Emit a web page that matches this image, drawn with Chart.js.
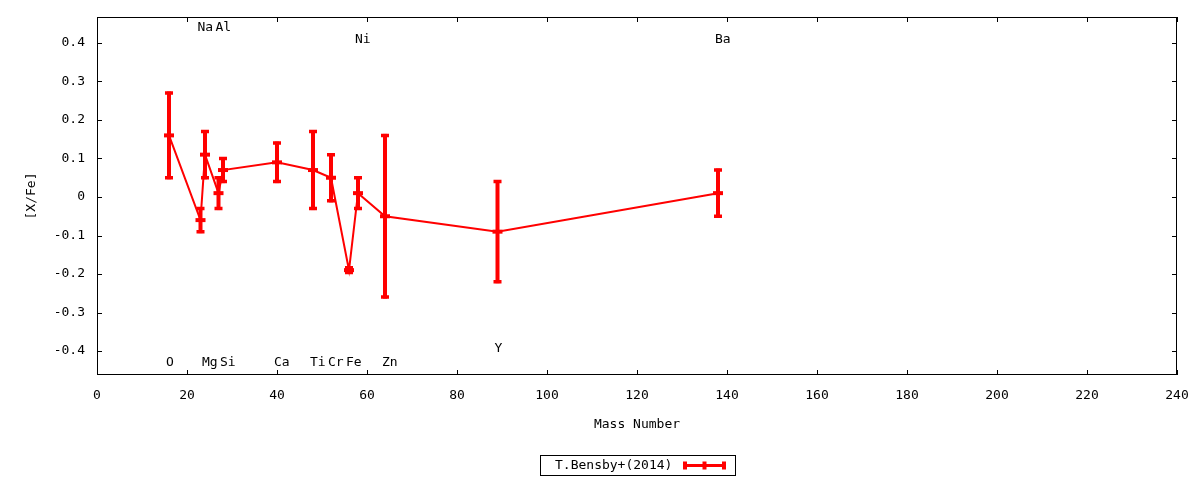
<!DOCTYPE html>
<html>
<head>
<meta charset="utf-8">
<script src="https://cdn.jsdelivr.net/npm/chart.js@4/dist/chart.umd.min.js"></script>
<style>
  html, body { margin: 0; padding: 0; background: #fff; }
  #chart { display: block; }
</style>
</head>
<body>
<canvas id="chart" width="1200" height="480"></canvas>
<script>
// ——— Data: [X/Fe] vs mass number, T.Bensby+(2014) ———
const elements = ['O', 'Na', 'Mg', 'Al', 'Si', 'Ca', 'Ti', 'Cr', 'Fe', 'Ni', 'Zn', 'Y', 'Ba'];
const massNumber = [16, 23, 24, 27, 28, 40, 48, 52, 56, 58, 64, 89, 138];
const xFe = [0.16, -0.06, 0.11, 0.01, 0.07, 0.09, 0.07, 0.05, -0.19, 0.01, -0.05, -0.09, 0.01];
const xFeLow = [0.05, -0.09, 0.05, -0.03, 0.04, 0.04, -0.03, -0.01, -0.196, -0.03, -0.26, -0.22, -0.05];
const xFeHigh = [0.27, -0.03, 0.17, 0.05, 0.10, 0.14, 0.17, 0.11, -0.184, 0.05, 0.16, 0.04, 0.07];
// where each element name sits, in [X/Fe] units
const labelLevel = [-0.43, 0.44, -0.43, 0.44, -0.43, -0.43, -0.43, -0.43, -0.43, 0.41, -0.43, -0.395, 0.41];

const xTicks = [0, 20, 40, 60, 80, 100, 120, 140, 160, 180, 200, 220, 240];
const yTicks = [-0.4, -0.3, -0.2, -0.1, 0, 0.1, 0.2, 0.3, 0.4];
const seriesName = 'T.Bensby+(2014)';

const RED = '#ff0000';
const FONT = '"DejaVu Sans Mono", monospace';

// ——— Frame with inward ticks, error bars, element labels, legend ———
const gnuplotLook = {
  id: 'gnuplotLook',
  beforeDatasetsDraw(chart) {
    const { ctx, scales: { x, y } } = chart;
    ctx.save();
    ctx.strokeStyle = RED;
    ctx.lineCap = 'butt';
    massNumber.forEach((m, i) => {
      const px = x.getPixelForValue(m);
      const yl = y.getPixelForValue(xFeLow[i]);
      const yh = y.getPixelForValue(xFeHigh[i]);
      ctx.lineWidth = 4;
      ctx.beginPath();
      ctx.moveTo(px, yl + 1.5); ctx.lineTo(px, yh - 1.5);
      ctx.stroke();
      ctx.lineWidth = 3.5;
      ctx.beginPath();
      ctx.moveTo(px - 4, yl); ctx.lineTo(px + 4, yl);
      ctx.moveTo(px - 4, yh); ctx.lineTo(px + 4, yh);
      ctx.stroke();
    });
    ctx.restore();
  },
  afterDraw(chart) {
    const { ctx, chartArea: a, scales: { x, y } } = chart;
    ctx.save();
    // frame
    ctx.strokeStyle = '#000';
    ctx.lineWidth = 1;
    ctx.strokeRect(a.left + 0.5, a.top + 0.5, a.right - a.left - 1, a.bottom - a.top - 1);
    ctx.beginPath();
    xTicks.forEach(v => {
      const px = Math.round(x.getPixelForValue(v)) + 0.5;
      ctx.moveTo(px, a.bottom); ctx.lineTo(px, a.bottom - 5);
      ctx.moveTo(px, a.top); ctx.lineTo(px, a.top + 5);
    });
    yTicks.forEach(v => {
      const py = Math.round(y.getPixelForValue(v)) + 0.5;
      ctx.moveTo(a.left, py); ctx.lineTo(a.left + 5, py);
      ctx.moveTo(a.right, py); ctx.lineTo(a.right - 5, py);
    });
    ctx.stroke();

    // element names
    ctx.fillStyle = '#000';
    ctx.font = '13px ' + FONT;
    ctx.textAlign = 'left';
    ctx.textBaseline = 'middle';
    elements.forEach((el, i) => {
      ctx.fillText(el, x.getPixelForValue(massNumber[i]) - 3, y.getPixelForValue(labelLevel[i]));
    });

    // legend box
    const bx = 540, by = 455, bw = 195, bh = 20;
    ctx.strokeRect(bx + 0.5, by + 0.5, bw, bh);
    ctx.fillText(seriesName, 555, by + bh / 2 + 1);
    const sx0 = 684, sx1 = 725, sy = by + bh / 2 + 0.5;
    ctx.strokeStyle = RED;
    ctx.lineWidth = 3;
    ctx.beginPath();
    ctx.moveTo(sx0, sy); ctx.lineTo(sx1, sy);
    ctx.stroke();
    ctx.lineWidth = 4;
    ctx.beginPath();
    [sx0 + 1, (sx0 + sx1) / 2, sx1 - 1].forEach(sx => {
      ctx.moveTo(sx, sy - 4); ctx.lineTo(sx, sy + 4);
    });
    ctx.stroke();
    ctx.restore();
  }
};

const ctx = document.getElementById('chart').getContext('2d');
new Chart(ctx, {
  type: 'line',
  data: {
    datasets: [{
      label: seriesName,
      data: massNumber.map((m, i) => ({ x: m, y: xFe[i] })),
      borderColor: RED,
      backgroundColor: RED,
      borderWidth: 2,
      pointStyle: 'line',
      pointRadius: 5,
      pointBorderWidth: 4,
      pointBorderColor: RED,
      fill: false,
      tension: 0
    }]
  },
  options: {
    responsive: false,
    animation: false,
    devicePixelRatio: 1,
    layout: { padding: { top: 17, right: 23, left: 0, bottom: 0 } },
    plugins: {
      legend: { display: false },
      tooltip: { enabled: false }
    },
    scales: {
      x: {
        type: 'linear',
        min: 0,
        max: 240,
        afterBuildTicks: s => { s.ticks = xTicks.map(v => ({ value: v })); },
        afterFit: s => { s.height = 105; s.paddingLeft = 0; s.paddingRight = 0; },
        grid: { display: false, drawTicks: false },
        border: { display: false },
        ticks: { color: '#000', padding: 13, font: { family: FONT, size: 13 } },
        title: {
          display: true, text: 'Mass Number', color: '#000',
          font: { family: FONT, size: 13 }, padding: { top: 0, bottom: 48 }
        }
      },
      y: {
        type: 'linear',
        min: -0.4623,
        max: 0.4675,
        afterBuildTicks: s => { s.ticks = yTicks.map(v => ({ value: v })); },
        afterFit: s => { s.width = 97; s.paddingTop = 0; s.paddingBottom = 0; },
        grid: { display: false, drawTicks: false },
        border: { display: false },
        ticks: {
          color: '#000', padding: 12, font: { family: FONT, size: 13 },
          callback: v => String(Math.round(v * 10) / 10)
        },
        title: {
          display: true, text: '[X/Fe]', color: '#000',
          font: { family: FONT, size: 13 }, padding: { top: 24, bottom: 0 }
        }
      }
    }
  },
  plugins: [gnuplotLook]
});
</script>
</body>
</html>
